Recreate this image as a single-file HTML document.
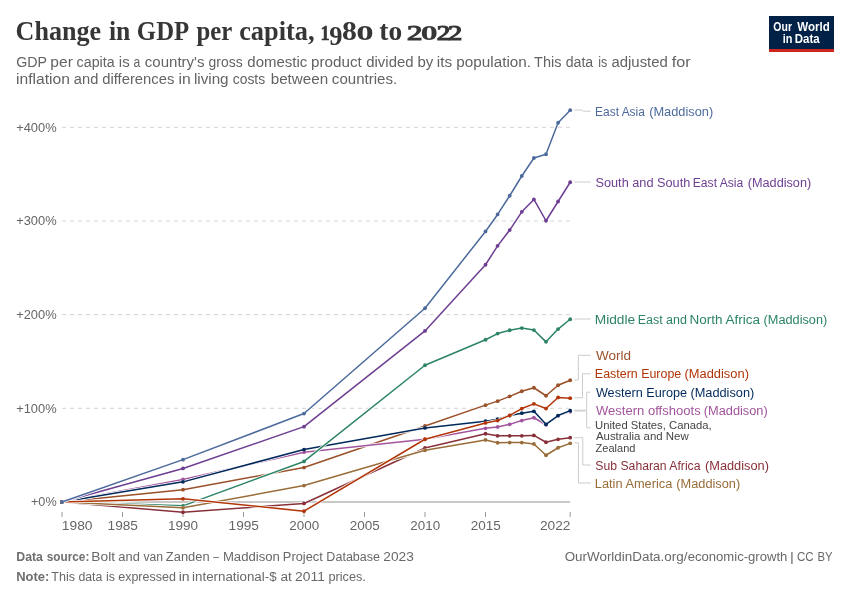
<!DOCTYPE html>
<html><head><meta charset="utf-8"><title>Change in GDP per capita, 1980 to 2022</title>
<style>
html,body{margin:0;padding:0;background:#fff;}
body{width:850px;height:600px;overflow:hidden;font-family:"Liberation Sans",sans-serif;}
svg{display:block;will-change:transform;opacity:0.999;}
text{font-family:"Liberation Sans",sans-serif;white-space:pre;}
.s{font-family:"Liberation Serif",serif;font-weight:bold;}
.s1{font-family:"Liberation Serif",serif;font-weight:bold;stroke:#363636;stroke-width:0.6px;}
.sn{font-family:"Liberation Serif",serif;font-weight:normal;stroke:#363636;stroke-width:1.1px;}
.b{font-weight:bold;}
</style></head><body>
<svg width="850" height="600" viewBox="0 0 850 600">
<rect width="850" height="600" fill="#fff"/>

<rect x="769" y="16" width="65" height="36" fill="#002147"/>
<rect x="769" y="49" width="65" height="3" fill="#ce261e"/>
<line x1="62.0" x2="570.2" y1="127.3" y2="127.3" stroke="#d4d4d4" stroke-width="1" stroke-dasharray="4,4"/>
<line x1="62.0" x2="570.2" y1="221.0" y2="221.0" stroke="#d4d4d4" stroke-width="1" stroke-dasharray="4,4"/>
<line x1="62.0" x2="570.2" y1="314.65" y2="314.65" stroke="#d4d4d4" stroke-width="1" stroke-dasharray="4,4"/>
<line x1="62.0" x2="570.2" y1="408.3" y2="408.3" stroke="#d4d4d4" stroke-width="1" stroke-dasharray="4,4"/>
<line x1="62.0" x2="570.2" y1="502.0" y2="502.0" stroke="#c8c8c8" stroke-width="2"/>
<line x1="62.0" x2="62.0" y1="512" y2="517" stroke="#999" stroke-width="1"/>
<line x1="122.5" x2="122.5" y1="512" y2="517" stroke="#999" stroke-width="1"/>
<line x1="183.0" x2="183.0" y1="512" y2="517" stroke="#999" stroke-width="1"/>
<line x1="243.5" x2="243.5" y1="512" y2="517" stroke="#999" stroke-width="1"/>
<line x1="304.0" x2="304.0" y1="512" y2="517" stroke="#999" stroke-width="1"/>
<line x1="364.5" x2="364.5" y1="512" y2="517" stroke="#999" stroke-width="1"/>
<line x1="425.0" x2="425.0" y1="512" y2="517" stroke="#999" stroke-width="1"/>
<line x1="485.5" x2="485.5" y1="512" y2="517" stroke="#999" stroke-width="1"/>
<line x1="570.2" x2="570.2" y1="512" y2="517" stroke="#999" stroke-width="1"/>
<defs><clipPath id="cp"><rect x="60" y="95" width="520" height="430"/></clipPath></defs>
<g clip-path="url(#cp)" fill="none" stroke-linejoin="round" stroke-linecap="round">
<polyline points="62.0,502.0 183.0,489.65 304.0,467.55 425.0,425.95 485.5,405.15 497.6,401.15 509.7,396.35 521.8,391.25 533.9,387.75 546.0,395.75 558.1,385.25 570.2,380.25" stroke="#fff" stroke-width="3"/>
<polyline points="62.0,502.0 183.0,489.65 304.0,467.55 425.0,425.95 485.5,405.15 497.6,401.15 509.7,396.35 521.8,391.25 533.9,387.75 546.0,395.75 558.1,385.25 570.2,380.25" stroke="#9A5129" stroke-width="1.5"/>
<g fill="#9A5129" stroke="none"><circle cx="62.0" cy="502.0" r="1.9"/><circle cx="183.0" cy="489.65" r="1.9"/><circle cx="304.0" cy="467.55" r="1.9"/><circle cx="425.0" cy="425.95" r="1.9"/><circle cx="485.5" cy="405.15" r="1.9"/><circle cx="497.6" cy="401.15" r="1.9"/><circle cx="509.7" cy="396.35" r="1.9"/><circle cx="521.8" cy="391.25" r="1.9"/><circle cx="533.9" cy="387.75" r="1.9"/><circle cx="546.0" cy="395.75" r="1.9"/><circle cx="558.1" cy="385.25" r="1.9"/><circle cx="570.2" cy="380.25" r="1.9"/></g>
<polyline points="62.0,502.0 183.0,479.45 304.0,452.15 425.0,439.25 485.5,428.35 497.6,426.95 509.7,424.35 521.8,420.55 533.9,417.75 546.0,424.75 558.1,415.85 570.2,411.65" stroke="#fff" stroke-width="3"/>
<polyline points="62.0,502.0 183.0,479.45 304.0,452.15 425.0,439.25 485.5,428.35 497.6,426.95 509.7,424.35 521.8,420.55 533.9,417.75 546.0,424.75 558.1,415.85 570.2,411.65" stroke="#A2559C" stroke-width="1.5"/>
<g fill="#A2559C" stroke="none"><circle cx="62.0" cy="502.0" r="1.9"/><circle cx="183.0" cy="479.45" r="1.9"/><circle cx="304.0" cy="452.15" r="1.9"/><circle cx="425.0" cy="439.25" r="1.9"/><circle cx="485.5" cy="428.35" r="1.9"/><circle cx="497.6" cy="426.95" r="1.9"/><circle cx="509.7" cy="424.35" r="1.9"/><circle cx="521.8" cy="420.55" r="1.9"/><circle cx="533.9" cy="417.75" r="1.9"/><circle cx="546.0" cy="424.75" r="1.9"/><circle cx="558.1" cy="415.85" r="1.9"/><circle cx="570.2" cy="411.65" r="1.9"/></g>
<polyline points="62.0,502.0 183.0,481.85 304.0,449.55 425.0,427.95 485.5,421.25 497.6,419.15 509.7,415.55 521.8,413.15 533.9,411.35 546.0,424.35 558.1,415.55 570.2,410.65" stroke="#fff" stroke-width="3"/>
<polyline points="62.0,502.0 183.0,481.85 304.0,449.55 425.0,427.95 485.5,421.25 497.6,419.15 509.7,415.55 521.8,413.15 533.9,411.35 546.0,424.35 558.1,415.55 570.2,410.65" stroke="#00295B" stroke-width="1.5"/>
<g fill="#00295B" stroke="none"><circle cx="62.0" cy="502.0" r="1.9"/><circle cx="183.0" cy="481.85" r="1.9"/><circle cx="304.0" cy="449.55" r="1.9"/><circle cx="425.0" cy="427.95" r="1.9"/><circle cx="485.5" cy="421.25" r="1.9"/><circle cx="497.6" cy="419.15" r="1.9"/><circle cx="509.7" cy="415.55" r="1.9"/><circle cx="521.8" cy="413.15" r="1.9"/><circle cx="533.9" cy="411.35" r="1.9"/><circle cx="546.0" cy="424.35" r="1.9"/><circle cx="558.1" cy="415.55" r="1.9"/><circle cx="570.2" cy="410.65" r="1.9"/></g>
<polyline points="62.0,502.0 183.0,512.25 304.0,503.45 425.0,447.95 485.5,433.75 497.6,435.85 509.7,435.85 521.8,435.85 533.9,435.45 546.0,442.25 558.1,439.35 570.2,437.65" stroke="#fff" stroke-width="3"/>
<polyline points="62.0,502.0 183.0,512.25 304.0,503.45 425.0,447.95 485.5,433.75 497.6,435.85 509.7,435.85 521.8,435.85 533.9,435.45 546.0,442.25 558.1,439.35 570.2,437.65" stroke="#883039" stroke-width="1.5"/>
<g fill="#883039" stroke="none"><circle cx="62.0" cy="502.0" r="1.9"/><circle cx="183.0" cy="512.25" r="1.9"/><circle cx="304.0" cy="503.45" r="1.9"/><circle cx="425.0" cy="447.95" r="1.9"/><circle cx="485.5" cy="433.75" r="1.9"/><circle cx="497.6" cy="435.85" r="1.9"/><circle cx="509.7" cy="435.85" r="1.9"/><circle cx="521.8" cy="435.85" r="1.9"/><circle cx="533.9" cy="435.45" r="1.9"/><circle cx="546.0" cy="442.25" r="1.9"/><circle cx="558.1" cy="439.35" r="1.9"/><circle cx="570.2" cy="437.65" r="1.9"/></g>
<polyline points="62.0,502.0 183.0,468.45 304.0,426.65 425.0,330.95 485.5,264.75 497.6,245.85 509.7,230.05 521.8,211.85 533.9,199.45 546.0,220.75 558.1,201.5 570.2,182.25" stroke="#fff" stroke-width="3"/>
<polyline points="62.0,502.0 183.0,468.45 304.0,426.65 425.0,330.95 485.5,264.75 497.6,245.85 509.7,230.05 521.8,211.85 533.9,199.45 546.0,220.75 558.1,201.5 570.2,182.25" stroke="#6D3E91" stroke-width="1.5"/>
<g fill="#6D3E91" stroke="none"><circle cx="62.0" cy="502.0" r="1.9"/><circle cx="183.0" cy="468.45" r="1.9"/><circle cx="304.0" cy="426.65" r="1.9"/><circle cx="425.0" cy="330.95" r="1.9"/><circle cx="485.5" cy="264.75" r="1.9"/><circle cx="497.6" cy="245.85" r="1.9"/><circle cx="509.7" cy="230.05" r="1.9"/><circle cx="521.8" cy="211.85" r="1.9"/><circle cx="533.9" cy="199.45" r="1.9"/><circle cx="546.0" cy="220.75" r="1.9"/><circle cx="558.1" cy="201.5" r="1.9"/><circle cx="570.2" cy="182.25" r="1.9"/></g>
<polyline points="62.0,502.0 183.0,505.85 304.0,461.45 425.0,365.25 485.5,339.75 497.6,333.55 509.7,330.25 521.8,328.05 533.9,330.05 546.0,341.85 558.1,329.05 570.2,319.25" stroke="#fff" stroke-width="3"/>
<polyline points="62.0,502.0 183.0,505.85 304.0,461.45 425.0,365.25 485.5,339.75 497.6,333.55 509.7,330.25 521.8,328.05 533.9,330.05 546.0,341.85 558.1,329.05 570.2,319.25" stroke="#2C8465" stroke-width="1.5"/>
<g fill="#2C8465" stroke="none"><circle cx="62.0" cy="502.0" r="1.9"/><circle cx="183.0" cy="505.85" r="1.9"/><circle cx="304.0" cy="461.45" r="1.9"/><circle cx="425.0" cy="365.25" r="1.9"/><circle cx="485.5" cy="339.75" r="1.9"/><circle cx="497.6" cy="333.55" r="1.9"/><circle cx="509.7" cy="330.25" r="1.9"/><circle cx="521.8" cy="328.05" r="1.9"/><circle cx="533.9" cy="330.05" r="1.9"/><circle cx="546.0" cy="341.85" r="1.9"/><circle cx="558.1" cy="329.05" r="1.9"/><circle cx="570.2" cy="319.25" r="1.9"/></g>
<polyline points="62.0,502.0 183.0,507.85 304.0,485.55 425.0,450.25 485.5,439.95 497.6,442.75 509.7,442.55 521.8,442.55 533.9,443.95 546.0,455.25 558.1,447.75 570.2,443.35" stroke="#fff" stroke-width="3"/>
<polyline points="62.0,502.0 183.0,507.85 304.0,485.55 425.0,450.25 485.5,439.95 497.6,442.75 509.7,442.55 521.8,442.55 533.9,443.95 546.0,455.25 558.1,447.75 570.2,443.35" stroke="#996D39" stroke-width="1.5"/>
<g fill="#996D39" stroke="none"><circle cx="62.0" cy="502.0" r="1.9"/><circle cx="183.0" cy="507.85" r="1.9"/><circle cx="304.0" cy="485.55" r="1.9"/><circle cx="425.0" cy="450.25" r="1.9"/><circle cx="485.5" cy="439.95" r="1.9"/><circle cx="497.6" cy="442.75" r="1.9"/><circle cx="509.7" cy="442.55" r="1.9"/><circle cx="521.8" cy="442.55" r="1.9"/><circle cx="533.9" cy="443.95" r="1.9"/><circle cx="546.0" cy="455.25" r="1.9"/><circle cx="558.1" cy="447.75" r="1.9"/><circle cx="570.2" cy="443.35" r="1.9"/></g>
<polyline points="62.0,502.0 183.0,498.85 304.0,511.15 425.0,439.25 485.5,422.95 497.6,420.55 509.7,415.35 521.8,408.55 533.9,403.85 546.0,408.55 558.1,397.45 570.2,398.15" stroke="#fff" stroke-width="3"/>
<polyline points="62.0,502.0 183.0,498.85 304.0,511.15 425.0,439.25 485.5,422.95 497.6,420.55 509.7,415.35 521.8,408.55 533.9,403.85 546.0,408.55 558.1,397.45 570.2,398.15" stroke="#B13507" stroke-width="1.5"/>
<g fill="#B13507" stroke="none"><circle cx="62.0" cy="502.0" r="1.9"/><circle cx="183.0" cy="498.85" r="1.9"/><circle cx="304.0" cy="511.15" r="1.9"/><circle cx="425.0" cy="439.25" r="1.9"/><circle cx="485.5" cy="422.95" r="1.9"/><circle cx="497.6" cy="420.55" r="1.9"/><circle cx="509.7" cy="415.35" r="1.9"/><circle cx="521.8" cy="408.55" r="1.9"/><circle cx="533.9" cy="403.85" r="1.9"/><circle cx="546.0" cy="408.55" r="1.9"/><circle cx="558.1" cy="397.45" r="1.9"/><circle cx="570.2" cy="398.15" r="1.9"/></g>
<polyline points="62.0,502.0 183.0,459.65 304.0,413.55 425.0,308.25 485.5,231.45 497.6,214.45 509.7,195.75 521.8,176.0 533.9,158.0 546.0,154.25 558.1,122.75 570.2,110.15" stroke="#fff" stroke-width="3"/>
<polyline points="62.0,502.0 183.0,459.65 304.0,413.55 425.0,308.25 485.5,231.45 497.6,214.45 509.7,195.75 521.8,176.0 533.9,158.0 546.0,154.25 558.1,122.75 570.2,110.15" stroke="#4C6A9C" stroke-width="1.5"/>
<g fill="#4C6A9C" stroke="none"><circle cx="62.0" cy="502.0" r="1.9"/><circle cx="183.0" cy="459.65" r="1.9"/><circle cx="304.0" cy="413.55" r="1.9"/><circle cx="425.0" cy="308.25" r="1.9"/><circle cx="485.5" cy="231.45" r="1.9"/><circle cx="497.6" cy="214.45" r="1.9"/><circle cx="509.7" cy="195.75" r="1.9"/><circle cx="521.8" cy="176.0" r="1.9"/><circle cx="533.9" cy="158.0" r="1.9"/><circle cx="546.0" cy="154.25" r="1.9"/><circle cx="558.1" cy="122.75" r="1.9"/><circle cx="570.2" cy="110.15" r="1.9"/></g>
</g>
<g stroke="#ccc" stroke-width="1" fill="none">
<polyline points="574.3,110 581.5,110 583.5,111.2 590.7,111.2"/>
<polyline points="574.3,182 590.7,182"/>
<polyline points="574.3,319 590.7,319"/>
<polyline points="574.3,380 578.3,380 578.3,355.3 590.7,355.3"/>
<polyline points="574.3,397.8 582.5,397.8 582.5,373.8 590.7,373.8"/>
<polyline points="574.3,410.2 586.7,410.2 586.7,392.2 590.7,392.2"/>
<polyline points="574.3,411 586.7,411 586.7,427.8 590.7,427.8"/>
<polyline points="574.3,437.7 582.8,437.7 582.8,465 590.7,465"/>
<polyline points="574.3,442.8 578.4,442.8 578.4,483 590.7,483"/>
</g>
<text class="s" x="15.60" y="40" font-size="28" fill="#363636" textLength="85.54" lengthAdjust="spacingAndGlyphs">Change</text>
<text class="s" x="108.94" y="40" font-size="28" fill="#363636" textLength="21.39" lengthAdjust="spacingAndGlyphs">in</text>
<text class="s" x="136.87" y="40" font-size="28" fill="#363636" textLength="52.29" lengthAdjust="spacingAndGlyphs">GDP</text>
<text class="s" x="196.38" y="40" font-size="28" fill="#363636" textLength="35.83" lengthAdjust="spacingAndGlyphs">per</text>
<text class="s" x="239.16" y="40" font-size="28" fill="#363636" textLength="75.38" lengthAdjust="spacingAndGlyphs">capita,</text>
<text class="s" x="379.31" y="40" font-size="28" fill="#363636" textLength="22.85" lengthAdjust="spacingAndGlyphs">to</text>
<text class="s1" x="320.54" y="40" font-size="20.5" fill="#363636" textLength="9.16" lengthAdjust="spacingAndGlyphs">1</text>
<text class="s" x="329.25" y="45.0" font-size="26.46" fill="#363636" textLength="13.23" lengthAdjust="spacingAndGlyphs">9</text>
<text class="s" x="342.12" y="40" font-size="27.5" fill="#363636" textLength="14.86" lengthAdjust="spacingAndGlyphs">8</text>
<text class="s" x="356.20" y="40" font-size="29" fill="#363636" textLength="17.40" lengthAdjust="spacingAndGlyphs">o</text>
<text class="sn" x="407.00" y="40" font-size="20.5" fill="#363636" textLength="15.38" lengthAdjust="spacingAndGlyphs">2</text>
<text class="s" x="420.60" y="40" font-size="29" fill="#363636" textLength="17.40" lengthAdjust="spacingAndGlyphs">o</text>
<text class="sn" x="436.68" y="40" font-size="20.5" fill="#363636" textLength="13.58" lengthAdjust="spacingAndGlyphs">2</text>
<text class="sn" x="448.11" y="40" font-size="20.5" fill="#363636" textLength="14.22" lengthAdjust="spacingAndGlyphs">2</text>
<text x="16.24" y="66.7" font-size="14" fill="#636363" textLength="30.82" lengthAdjust="spacingAndGlyphs">GDP</text>
<text x="50.39" y="66.7" font-size="14" fill="#636363" textLength="22.47" lengthAdjust="spacingAndGlyphs">per</text>
<text x="76.59" y="66.7" font-size="14" fill="#636363" textLength="38.02" lengthAdjust="spacingAndGlyphs">capita</text>
<text x="118.83" y="66.7" font-size="14" fill="#636363" textLength="10.84" lengthAdjust="spacingAndGlyphs">is</text>
<text x="133.57" y="66.7" font-size="14" fill="#636363" textLength="6.78" lengthAdjust="spacingAndGlyphs">a</text>
<text x="144.76" y="66.7" font-size="14" fill="#636363" textLength="59.78" lengthAdjust="spacingAndGlyphs">country's</text>
<text x="208.60" y="66.7" font-size="14" fill="#636363" textLength="33.98" lengthAdjust="spacingAndGlyphs">gross</text>
<text x="247.36" y="66.7" font-size="14" fill="#636363" textLength="60.00" lengthAdjust="spacingAndGlyphs">domestic</text>
<text x="311.01" y="66.7" font-size="14" fill="#636363" textLength="50.71" lengthAdjust="spacingAndGlyphs">product</text>
<text x="366.27" y="66.7" font-size="14" fill="#636363" textLength="47.26" lengthAdjust="spacingAndGlyphs">divided</text>
<text x="417.43" y="66.7" font-size="14" fill="#636363" textLength="15.82" lengthAdjust="spacingAndGlyphs">by</text>
<text x="436.81" y="66.7" font-size="14" fill="#636363" textLength="15.23" lengthAdjust="spacingAndGlyphs">its</text>
<text x="456.31" y="66.7" font-size="14" fill="#636363" textLength="74.77" lengthAdjust="spacingAndGlyphs">population.</text>
<text x="534.04" y="66.7" font-size="14" fill="#636363" textLength="27.43" lengthAdjust="spacingAndGlyphs">This</text>
<text x="565.70" y="66.7" font-size="14" fill="#636363" textLength="27.50" lengthAdjust="spacingAndGlyphs">data</text>
<text x="598.31" y="66.7" font-size="14" fill="#636363" textLength="9.05" lengthAdjust="spacingAndGlyphs">is</text>
<text x="611.47" y="66.7" font-size="14" fill="#636363" textLength="56.33" lengthAdjust="spacingAndGlyphs">adjusted</text>
<text x="671.71" y="66.7" font-size="14" fill="#636363" textLength="18.89" lengthAdjust="spacingAndGlyphs">for</text>
<text x="16.08" y="84.3" font-size="14" fill="#636363" textLength="53.87" lengthAdjust="spacingAndGlyphs">inflation</text>
<text x="73.88" y="84.3" font-size="14" fill="#636363" textLength="24.42" lengthAdjust="spacingAndGlyphs">and</text>
<text x="102.27" y="84.3" font-size="14" fill="#636363" textLength="72.04" lengthAdjust="spacingAndGlyphs">differences</text>
<text x="178.48" y="84.3" font-size="14" fill="#636363" textLength="12.24" lengthAdjust="spacingAndGlyphs">in</text>
<text x="193.91" y="84.3" font-size="14" fill="#636363" textLength="34.67" lengthAdjust="spacingAndGlyphs">living</text>
<text x="232.81" y="84.3" font-size="14" fill="#636363" textLength="32.33" lengthAdjust="spacingAndGlyphs">costs</text>
<text x="270.72" y="84.3" font-size="14" fill="#636363" textLength="57.40" lengthAdjust="spacingAndGlyphs">between</text>
<text x="331.86" y="84.3" font-size="14" fill="#636363" textLength="65.33" lengthAdjust="spacingAndGlyphs">countries.</text>
<text class="b" x="773.36" y="30.8" font-size="12" fill="#fff" textLength="18.62" lengthAdjust="spacingAndGlyphs">Our</text>
<text class="b" x="797.20" y="30.8" font-size="12" fill="#fff" textLength="32.55" lengthAdjust="spacingAndGlyphs">World</text>
<text class="b" x="782.82" y="42.7" font-size="12" fill="#fff" textLength="9.69" lengthAdjust="spacingAndGlyphs">in</text>
<text class="b" x="794.78" y="42.7" font-size="12" fill="#fff" textLength="24.93" lengthAdjust="spacingAndGlyphs">Data</text>
<text x="16.16" y="131.7" font-size="13" fill="#666" textLength="40.48" lengthAdjust="spacingAndGlyphs">+400%</text>
<text x="16.16" y="225.4" font-size="13" fill="#666" textLength="40.48" lengthAdjust="spacingAndGlyphs">+300%</text>
<text x="16.16" y="319.04999999999995" font-size="13" fill="#666" textLength="40.48" lengthAdjust="spacingAndGlyphs">+200%</text>
<text x="16.16" y="412.7" font-size="13" fill="#666" textLength="40.48" lengthAdjust="spacingAndGlyphs">+100%</text>
<text x="30.97" y="506.2" font-size="13" fill="#666" textLength="25.71" lengthAdjust="spacingAndGlyphs">+0%</text>
<text x="61.84" y="530.4" font-size="13" fill="#666" textLength="30.71" lengthAdjust="spacingAndGlyphs">1980</text>
<text x="107.55" y="530.4" font-size="13" fill="#666" textLength="30.35" lengthAdjust="spacingAndGlyphs">1985</text>
<text x="168.06" y="530.4" font-size="13" fill="#666" textLength="30.08" lengthAdjust="spacingAndGlyphs">1990</text>
<text x="228.55" y="530.4" font-size="13" fill="#666" textLength="30.35" lengthAdjust="spacingAndGlyphs">1995</text>
<text x="289.33" y="530.4" font-size="13" fill="#666" textLength="29.81" lengthAdjust="spacingAndGlyphs">2000</text>
<text x="349.82" y="530.4" font-size="13" fill="#666" textLength="30.08" lengthAdjust="spacingAndGlyphs">2005</text>
<text x="410.33" y="530.4" font-size="13" fill="#666" textLength="29.81" lengthAdjust="spacingAndGlyphs">2010</text>
<text x="470.82" y="530.4" font-size="13" fill="#666" textLength="30.08" lengthAdjust="spacingAndGlyphs">2015</text>
<text x="540.01" y="530.4" font-size="13" fill="#666" textLength="30.50" lengthAdjust="spacingAndGlyphs">2022</text>
<text x="595.11" y="115.6" font-size="12" fill="#4C6A9C" textLength="49.72" lengthAdjust="spacingAndGlyphs">East Asia</text>
<text x="649.20" y="115.6" font-size="12" fill="#4C6A9C" textLength="64.03" lengthAdjust="spacingAndGlyphs">(Maddison)</text>
<text x="595.47" y="186.6" font-size="12" fill="#6D3E91" textLength="94.84" lengthAdjust="spacingAndGlyphs">South and South</text>
<text x="692.79" y="186.6" font-size="12" fill="#6D3E91" textLength="50.44" lengthAdjust="spacingAndGlyphs">East Asia</text>
<text x="747.71" y="186.6" font-size="12" fill="#6D3E91" textLength="63.52" lengthAdjust="spacingAndGlyphs">(Maddison)</text>
<text x="594.76" y="323.6" font-size="12" fill="#2C8465" textLength="40.44" lengthAdjust="spacingAndGlyphs">Middle</text>
<text x="637.66" y="323.6" font-size="12" fill="#2C8465" textLength="49.25" lengthAdjust="spacingAndGlyphs">East and</text>
<text x="689.48" y="323.6" font-size="12" fill="#2C8465" textLength="70.47" lengthAdjust="spacingAndGlyphs">North Africa</text>
<text x="763.61" y="323.6" font-size="12" fill="#2C8465" textLength="63.62" lengthAdjust="spacingAndGlyphs">(Maddison)</text>
<text x="595.90" y="360.0" font-size="12" fill="#9A5129" textLength="35.09" lengthAdjust="spacingAndGlyphs">World</text>
<text x="594.86" y="378.4" font-size="12" fill="#B13507" textLength="86.40" lengthAdjust="spacingAndGlyphs">Eastern Europe</text>
<text x="684.49" y="378.4" font-size="12" fill="#B13507" textLength="64.44" lengthAdjust="spacingAndGlyphs">(Maddison)</text>
<text x="595.90" y="396.8" font-size="12" fill="#00295B" textLength="91.13" lengthAdjust="spacingAndGlyphs">Western Europe</text>
<text x="690.40" y="396.8" font-size="12" fill="#00295B" textLength="63.93" lengthAdjust="spacingAndGlyphs">(Maddison)</text>
<text x="595.90" y="415.2" font-size="12" fill="#A2559C" textLength="104.78" lengthAdjust="spacingAndGlyphs">Western offshoots</text>
<text x="703.80" y="415.2" font-size="12" fill="#A2559C" textLength="63.93" lengthAdjust="spacingAndGlyphs">(Maddison)</text>
<text x="595.09" y="428.6" font-size="10.5" fill="#444" textLength="116.56" lengthAdjust="spacingAndGlyphs">United States, Canada,</text>
<text x="595.90" y="440.4" font-size="10.5" fill="#444" textLength="92.87" lengthAdjust="spacingAndGlyphs">Australia and New</text>
<text x="595.64" y="452.0" font-size="10.5" fill="#444" textLength="39.80" lengthAdjust="spacingAndGlyphs">Zealand</text>
<text x="595.39" y="469.6" font-size="12" fill="#883039" textLength="105.11" lengthAdjust="spacingAndGlyphs">Sub Saharan Africa</text>
<text x="705.00" y="469.6" font-size="12" fill="#883039" textLength="63.93" lengthAdjust="spacingAndGlyphs">(Maddison)</text>
<text x="594.83" y="487.6" font-size="12" fill="#996D39" textLength="77.52" lengthAdjust="spacingAndGlyphs">Latin America</text>
<text x="676.30" y="487.6" font-size="12" fill="#996D39" textLength="63.93" lengthAdjust="spacingAndGlyphs">(Maddison)</text>
<text class="b" x="16.25" y="561.0" font-size="12.3" fill="#6e6e6e" textLength="26.66" lengthAdjust="spacingAndGlyphs">Data</text>
<text class="b" x="46.72" y="561.0" font-size="12.3" fill="#6e6e6e" textLength="42.60" lengthAdjust="spacingAndGlyphs">source:</text>
<text x="91.38" y="561.0" font-size="12.3" fill="#686868" textLength="23.75" lengthAdjust="spacingAndGlyphs">Bolt</text>
<text x="118.38" y="561.0" font-size="12.3" fill="#686868" textLength="21.54" lengthAdjust="spacingAndGlyphs">and</text>
<text x="143.40" y="561.0" font-size="12.3" fill="#686868" textLength="19.62" lengthAdjust="spacingAndGlyphs">van</text>
<text x="165.88" y="561.0" font-size="12.3" fill="#686868" textLength="43.68" lengthAdjust="spacingAndGlyphs">Zanden</text>
<text x="213.20" y="561.0" font-size="12.3" fill="#686868" textLength="5.68" lengthAdjust="spacingAndGlyphs">–</text>
<text x="222.93" y="561.0" font-size="12.3" fill="#686868" textLength="56.95" lengthAdjust="spacingAndGlyphs">Maddison</text>
<text x="282.86" y="561.0" font-size="12.3" fill="#686868" textLength="39.87" lengthAdjust="spacingAndGlyphs">Project</text>
<text x="326.38" y="561.0" font-size="12.3" fill="#686868" textLength="53.67" lengthAdjust="spacingAndGlyphs">Database</text>
<text x="383.34" y="561.0" font-size="12.3" fill="#686868" textLength="30.43" lengthAdjust="spacingAndGlyphs">2023</text>
<text class="b" x="16.21" y="580.6" font-size="12.3" fill="#6e6e6e" textLength="33.13" lengthAdjust="spacingAndGlyphs">Note:</text>
<text x="51.34" y="580.6" font-size="12.3" fill="#686868" textLength="23.75" lengthAdjust="spacingAndGlyphs">This</text>
<text x="78.40" y="580.6" font-size="12.3" fill="#686868" textLength="23.94" lengthAdjust="spacingAndGlyphs">data</text>
<text x="106.05" y="580.6" font-size="12.3" fill="#686868" textLength="8.95" lengthAdjust="spacingAndGlyphs">is</text>
<text x="118.19" y="580.6" font-size="12.3" fill="#686868" textLength="57.67" lengthAdjust="spacingAndGlyphs">expressed</text>
<text x="178.75" y="580.6" font-size="12.3" fill="#686868" textLength="10.90" lengthAdjust="spacingAndGlyphs">in</text>
<text x="192.09" y="580.6" font-size="12.3" fill="#686868" textLength="84.52" lengthAdjust="spacingAndGlyphs">international-$</text>
<text x="280.55" y="580.6" font-size="12.3" fill="#686868" textLength="11.37" lengthAdjust="spacingAndGlyphs">at</text>
<text x="295.14" y="580.6" font-size="12.3" fill="#686868" textLength="29.75" lengthAdjust="spacingAndGlyphs">2011</text>
<text x="328.53" y="580.6" font-size="12.3" fill="#686868" textLength="37.33" lengthAdjust="spacingAndGlyphs">prices.</text>
<text x="564.65" y="561.0" font-size="12.3" fill="#686868" textLength="122.80" lengthAdjust="spacingAndGlyphs">OurWorldinData.org/</text>
<text x="687.67" y="561.0" font-size="12.3" fill="#686868" textLength="99.68" lengthAdjust="spacingAndGlyphs">economic-growth</text>
<text x="790.10" y="561.0" font-size="12.3" fill="#686868" textLength="3.84" lengthAdjust="spacingAndGlyphs">|</text>
<text x="797.00" y="561.0" font-size="12.3" fill="#686868" textLength="16.69" lengthAdjust="spacingAndGlyphs">CC</text>
<text x="817.58" y="561.0" font-size="12.3" fill="#686868" textLength="15.09" lengthAdjust="spacingAndGlyphs">BY</text>
</svg></body></html>
